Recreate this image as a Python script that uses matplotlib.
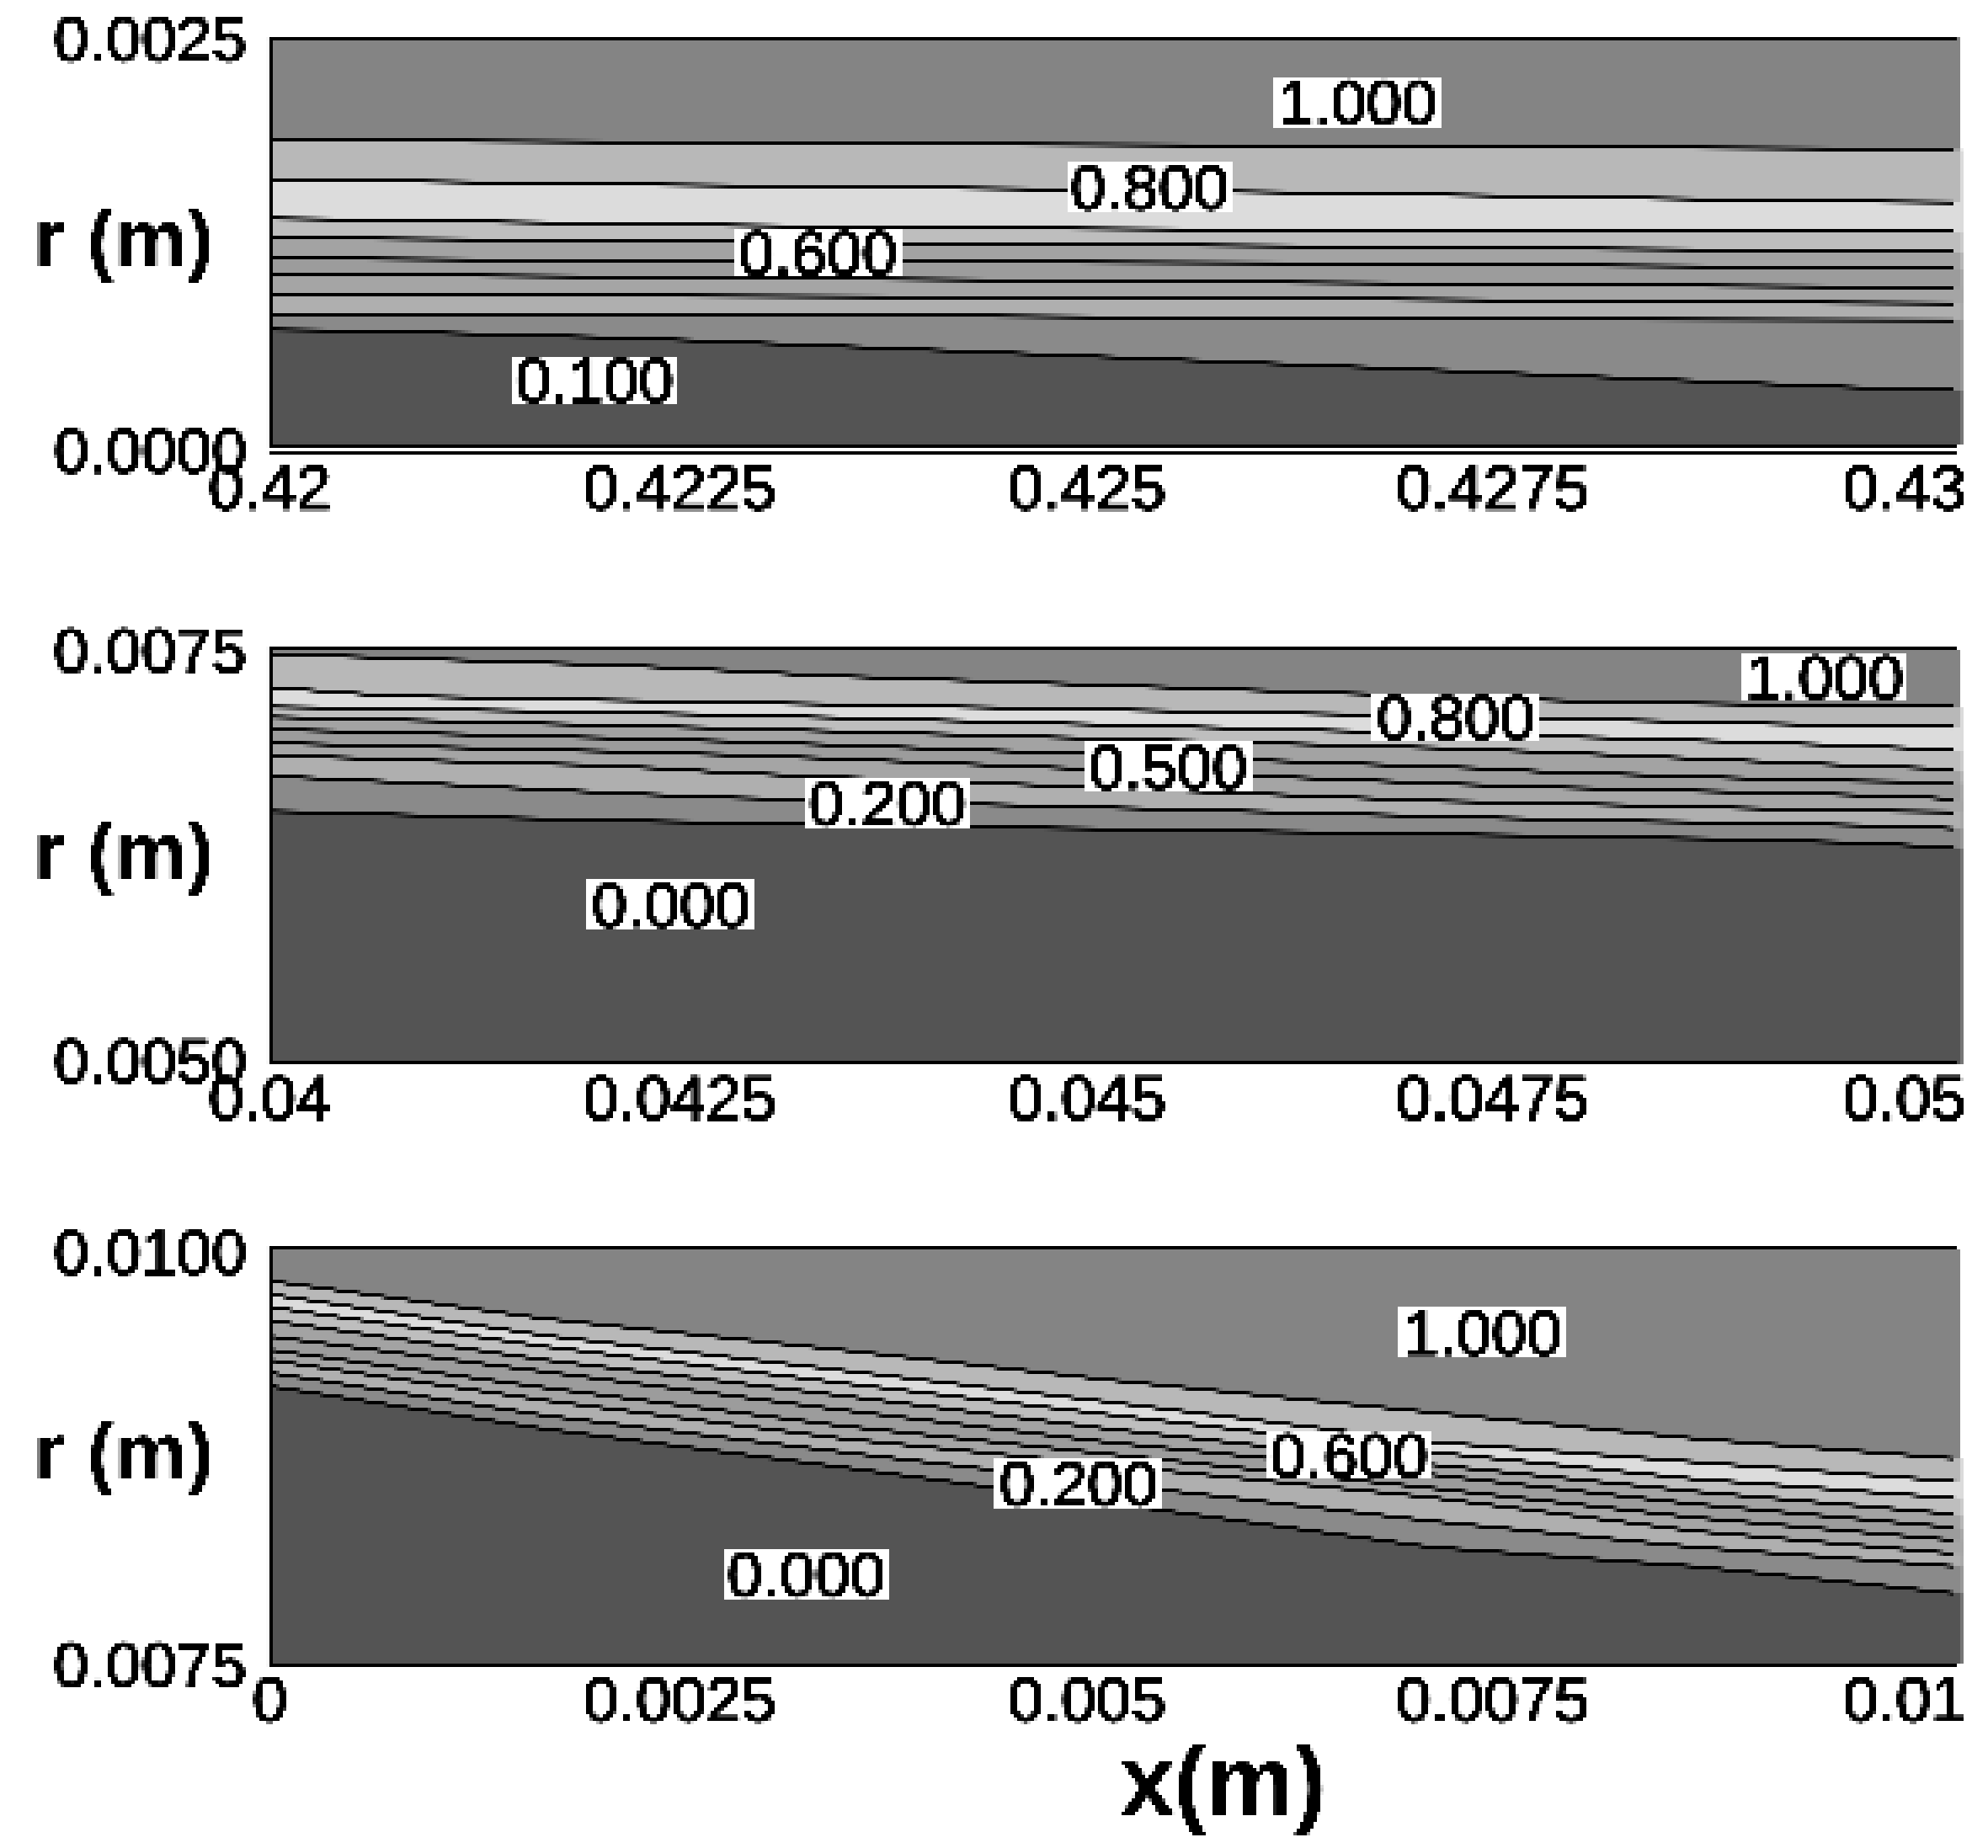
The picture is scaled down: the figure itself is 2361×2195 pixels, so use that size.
import matplotlib
matplotlib.use('Agg')
import matplotlib.pyplot as plt
from matplotlib.patches import Rectangle
import matplotlib.patheffects as pe
import numpy as np

plt.rcParams['font.family'] = ['Liberation Sans', 'DejaVu Sans']

######################################################################
# data, one entry per contour line, top line first

band_colors = ['#848484', '#b8b8b8', '#dcdcdc', '#bebebe', '#a3a3a3',
               '#9c9c9c', '#a5a5a5', '#afafaf', '#8a8a8a', '#545454']

top_x = [
    [.42, .4212, .42437, .42843, .42996],
    [.42, .4206, .4218, .42363, .42537, .42663, .42783, .42903, .42996],
    [.42, .42072, .42192, .42338, .42605, .42996],
    [.42, .4212, .42363, .42605, .42843, .42996],
    [.42, .4212, .42605, .42843, .42996],
    [.42, .4212, .42363, .42605, .42843, .42996],
    [.42, .4212, .42605, .42843, .42996],
    [.42, .42363, .42605, .42996],
    [.42, .42066, .42213, .42313, .4265, .42843, .4294, .42996],
]
top_r = [
    [.001878, .001867, .001847, .001826, .001816],
    [.001635, .001624, .001604, .001583, .001562, .001542, .001521, .0015, .00149],
    [.001392, .001381, .001361, .00134, .001319, .001309],
    [.001273, .001262, .001242, .001221, .0012, .00119],
    [.001148, .001138, .001117, .001097, .001086],
    [.00105, .00104, .001019, .000998, .000978, .000967],
    [.000931, .000921, .0009, .000879, .000869],
    [.000807, .000797, .000776, .000766],
    [.000709, .000698, .000657, .000616, .000476, .000393, .000352, .000341],
]
top_labels = ['1.000', '0.800', '0.600', '0.100']
top_label_x = [.42643, .4252, .42324, .42192]
top_label_r = [.002105, .001583, .001179, .000398]

mid_x = [
    [.04, .04029, .04089, .04211, .04292, .04327, .04783, .04903, .04996],
    [.04, .04014, .04043, .0407, .04163, .0428, .04762, .04843, .04924, .04996],
    [.04, .0406, .0418, .0428, .04812, .04874, .04934, .04981, .04996],
    [.04, .04039, .0412, .04201, .0428, .04693, .04745, .04791, .04838, .04882, .04928, .04981, .04996],
    [.04, .04039, .0412, .04201, .04271, .04331, .04716, .04752, .04812, .04874, .04934, .04996],
    [.04, .04039, .0412, .04201, .04269, .04327, .04702, .04762, .04843, .04924, .04981, .04996],
    [.04, .04037, .04111, .04184, .0423, .04261, .04302, .04692, .04762, .04843, .04924, .04996],
    [.04, .04019, .0406, .04101, .04139, .0418, .04221, .04271, .04783, .04903, .04981, .04996],
    [.04, .04039, .0412, .04201, .04302, .04773, .04878, .04947, .04981, .04996],
]
mid_r = [
    [.007468, .007458, .007437, .007397, .007356, .007336, .007178, .007158, .007148],
    [.007265, .007255, .007234, .007214, .007194, .007173, .007077, .007057, .007036, .007026],
    [.007148, .007138, .007118, .007097, .006955, .006935, .006914, .006894, .006889],
    [.007087, .007077, .007057, .007036, .007016, .006899, .006879, .006859, .006838, .006818, .006798, .006777, .006767],
    [.007011, .007001, .00698, .00696, .00694, .006919, .006777, .006757, .006737, .006716, .006701, .006691],
    [.00693, .006919, .006899, .006879, .006859, .006838, .006681, .006661, .00664, .00662, .0066, .006589],
    [.006853, .006843, .006818, .006798, .006777, .006757, .006737, .006579, .006564, .006544, .006523, .006513],
    [.006732, .006721, .006701, .006681, .006661, .00664, .00662, .0066, .006462, .006442, .006422, .006412],
    [.006518, .006508, .006483, .006462, .006442, .006366, .006346, .006325, .006305, .006295],
]
mid_labels = ['1.000', '0.800', '0.500', '0.200', '0.000']
mid_label_x = [.04919, .04701, .04531, .04365, .04237]
mid_label_r = [.007326, .007087, .006787, .006569, .005955]

low_x = [0, .001633, .003376, .00493, .006862, .008416, .00996]
low_r = [
    [.009803, .009575, .009388, .009211, .009013, .008856, .008735],
    [.009722, .009474, .009266, .009079, .008836, .008715, .008598],
    [.009646, .009408, .00919, .009003, .008775, .008613, .008497],
    [.009565, .009327, .009114, .008917, .008699, .008538, .008401],
    [.009469, .009256, .009028, .008836, .008639, .008462, .00832],
    [.009388, .00916, .008932, .008765, .008558, .008381, .008244],
    [.009327, .009084, .008856, .008699, .008502, .0083, .008163],
    [.009251, .008993, .008775, .008588, .00836, .008203, .008087],
    [.00917, .008912, .008684, .008472, .008203, .008087, .007925],
]
low_labels = ['1.000', '0.600', '0.200', '0.000']
low_label_x = [.00717, .00638, .00478, .00317]
low_label_r = [.009494, .008755, .008588, .008042]

# tick text: the labels are not evenly placed under the frame
x_tick_frac = [0.0, .2423, .4831, .7228, .9663]
x_tick_text = [
    ['0.42', '0.4225', '0.425', '0.4275', '0.43'],
    ['0.04', '0.0425', '0.045', '0.0475', '0.05'],
    ['0', '0.0025', '0.005', '0.0075', '0.01'],
]
y_tick_text = [['0.0000', '0.0025'], ['0.0050', '0.0075'], ['0.0075', '0.0100']]

######################################################################
# the original is a low resolution bitmap: same blocky look here

heavy = [pe.withStroke(linewidth=1.5, foreground='black')]


def pixelate(img, dpi):
    rows = np.minimum(np.arange(img.shape[0]) // 4 * 4 + 2, img.shape[0] - 1)
    cols = np.minimum(np.arange(img.shape[1]) // 4 * 4 + 2, img.shape[1] - 1)
    return img[np.ix_(rows, cols)], 0, 0


def draw_panel(ax, xs, rs, xlim, rlim, labels, label_x, label_r, pad):
    ax.fill_between(xlim, rlim[0], rlim[1], color=band_colors[0], lw=0)
    for x, r, c in zip(xs, rs, band_colors[1:]):
        # fill runs on to the frame edge, the line stops a bit before
        ax.fill_between(list(x) + [xlim[1]], list(r) + [r[-1]], rlim[0], color=c, lw=0)
    for x, r in zip(xs, rs):
        ax.plot(x, r, color='black', lw=2.9, solid_capstyle='butt')

    dx = xlim[1] - xlim[0]
    dr = rlim[1] - rlim[0]
    for t, x, r in zip(labels, label_x, label_r):
        ax.add_patch(Rectangle((x - .0493 * dx, r - .059 * dr), .0986 * dx, .118 * dr,
                               facecolor='white', edgecolor='none', zorder=5))
        ax.text(x, r - .054 * dr, t, ha='center', va='baseline', fontsize=54, zorder=6,
                path_effects=heavy)

    ax.set_xlim(xlim)
    ax.spines['right'].set_visible(False)
    ax.spines['left'].set_bounds(rlim[0], rlim[1])
    ax.spines['top'].set_bounds(xlim[0], xlim[0] + .996 * dx)
    ax.spines['bottom'].set_bounds(xlim[0], xlim[0] + .996 * dx)
    for s in ax.spines.values():
        s.set_linewidth(2.9)
    ax.tick_params(length=0, labelsize=54)
    ax.tick_params(axis='x', pad=pad)
    ax.tick_params(axis='y', pad=20)
    ax.set_ylabel('r (m)', rotation=0, fontsize=69.5, fontweight='bold', ha='center', va='center')


W, H = 2361, 2195
fig = plt.figure(figsize=(W / 100, H / 100), dpi=100)
fig.set_agg_filter(pixelate)

ax1 = fig.add_axes([321 / W, 1 - 537.5 / H, 2009 / W, 491.8 / H])
ax2 = fig.add_axes([321 / W, 1 - 1263 / H, 2009 / W, 492.3 / H])
ax3 = fig.add_axes([321 / W, 1 - 1977 / H, 2009 / W, 494 / H])

draw_panel(ax1, top_x, top_r, (.42, .43), (0, .0025), top_labels, top_label_x, top_label_r, 10)
draw_panel(ax2, mid_x, mid_r, (.04, .05), (.005, .0075), mid_labels, mid_label_x, mid_label_r, 10)
draw_panel(ax3, [low_x] * 9, low_r, (0, .01), (.0075, .01), low_labels, low_label_x, low_label_r, 10)

# top panel: extra rule under the frame, the axes reach down to it
ax1.set_ylim(-.000044, .0025)
ax1.plot([.42, .42998], [0, 0], color='black', lw=2.9, solid_capstyle='butt')
ax2.set_ylim(.005, .0075)
ax3.set_ylim(.0075, .01)
ax1.yaxis.set_label_coords(-.0866, .5)
ax2.yaxis.set_label_coords(-.0866, .494)
ax3.yaxis.set_label_coords(-.0866, .494)
ax1.set_yticks([-.00003, .0025], y_tick_text[0])
ax2.set_yticks([.005015, .00749], y_tick_text[1])
ax3.set_yticks([.0075, .00998], y_tick_text[2])

for ax, start, text in zip([ax1, ax2, ax3], [.42, .04, 0], x_tick_text):
    ax.set_xticks([start + f * .01 for f in x_tick_frac], text)
    for t in ax.get_xticklabels() + ax.get_yticklabels():
        t.set_path_effects(heavy)

ax3.set_xlabel('x(m)', fontsize=84, fontweight='bold', ha='center', va='center')
ax3.xaxis.set_label_coords(.5635, -.3)

fig.savefig('out.png', dpi=100, facecolor='white')
